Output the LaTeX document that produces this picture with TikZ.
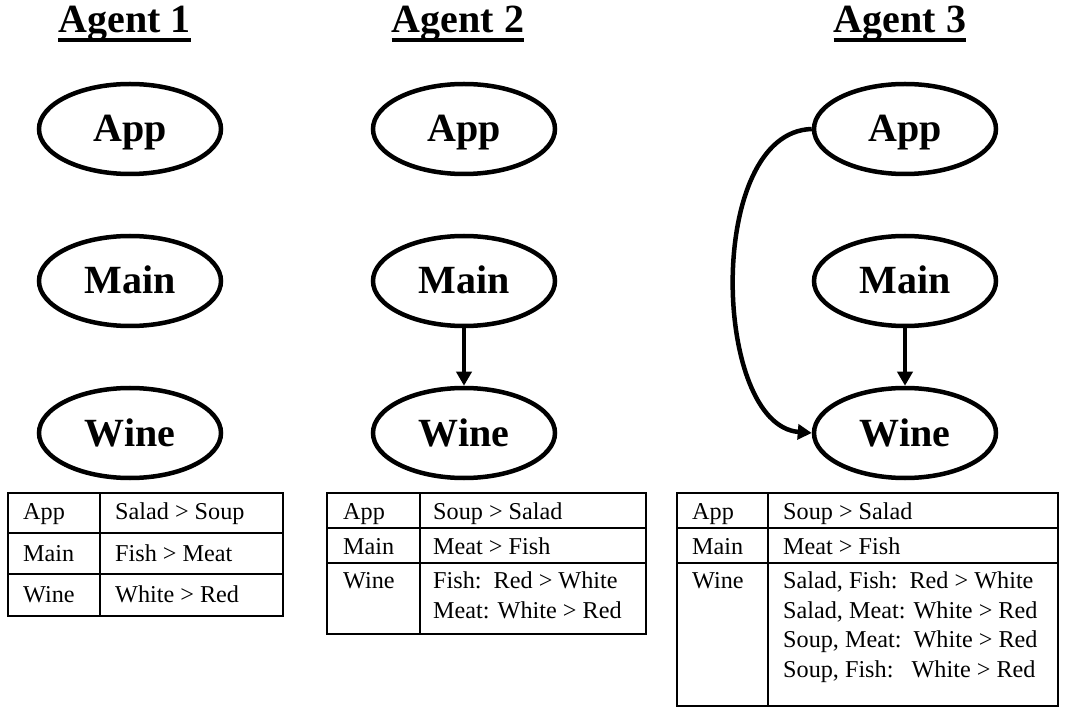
\documentclass[tikz,border=0pt]{standalone}
\usepackage{fontspec}
\setmainfont{Liberation Serif}
\usetikzlibrary{shapes.geometric,arrows.meta}
\begin{document}
\begin{tikzpicture}[x=1pt,y=-1pt,
 var/.style={ellipse,draw,line width=4.5pt,minimum width=182pt,minimum height=90pt,inner sep=0pt,text height=26pt,text depth=0pt,font=\fontsize{40}{41}\selectfont\bfseries},
 title/.style={inner sep=0pt,anchor=base,font=\fontsize{40}{42}\selectfont\bfseries},
 uline/.style={line width=3.5pt},
 arr/.style={line width=4.5pt,-{Triangle[length=14pt,width=15pt]}},
 tab/.style={line width=2pt},
 cell/.style={inner sep=0pt,anchor=base west,font=\fontsize{24.2}{26}\selectfont}]
\useasboundingbox (0,0) rectangle (1068,708);

% titles
\node[title] (t1) at (124.5,33) {Agent 1};
\node[title] (t2) at (458,33) {Agent 2};
\node[title] (t3) at (900,33) {Agent 3};
\foreach \t in {t1,t2,t3}
  \draw[uline] ([yshift=-7pt]\t.base west) -- ([yshift=-7pt]\t.base east);

% agent 1
\node[var] (a1) at (130,129) {App};
\node[var] (m1) at (130,281) {Main};
\node[var] (w1) at (130,433) {Wine};
% agent 2
\node[var] (a2) at (464,129) {App};
\node[var] (m2) at (464,281) {Main};
\node[var] (w2) at (464,433) {Wine};
\draw[arr] (m2) -- (w2);
% agent 3
\node[var] (a3) at (905,129) {App};
\node[var] (m3) at (905,281) {Main};
\node[var] (w3) at (905,433) {Wine};
\draw[arr] (m3) -- (w3);
\draw[arr] (a3.west) .. controls (705,132) and (712,425) .. (w3.west);

% table 1
\draw[tab] (8,493) rectangle (283,616);
\draw[tab] (8,533) -- (283,533);
\draw[tab] (8,574) -- (283,574);
\draw[tab] (100,493) -- (100,616);
\node[cell] (c1a) at (23,519) {App};
\node[cell] (c1b) at (115,519) {Salad > Soup};
\node[cell] (c1c) at (23,561) {Main};
\node[cell] (c1d) at (115,561) {Fish > Meat};
\node[cell] (c1e) at (23,602) {Wine};
\node[cell] (c1f) at (115,602) {White > Red};

% table 2
\draw[tab] (327,493) rectangle (646,634);
\draw[tab] (327,528) -- (646,528);
\draw[tab] (327,563) -- (646,563);
\draw[tab] (420,493) -- (420,634);
\node[cell] (c2a) at (343,519) {App};
\node[cell] (c2b) at (433,519) {Soup > Salad};
\node[cell] (c2c) at (343,554) {Main};
\node[cell] (c2d) at (433,554) {Meat > Fish};
\node[cell] (c2e) at (343,588) {Wine};
\node[cell] (c2f) at (433,588) {Fish:\ \ Red > White};
\node[cell] (c2g) at (433,618) {Meat: White > Red};

% table 3
\draw[tab] (677,493) rectangle (1058,706);
\draw[tab] (677,528) -- (1058,528);
\draw[tab] (677,563) -- (1058,563);
\draw[tab] (768,493) -- (768,706);
\node[cell] (c3a) at (692,519) {App};
\node[cell] (c3b) at (783,519) {Soup > Salad};
\node[cell] (c3c) at (692,554) {Main};
\node[cell] (c3d) at (783,554) {Meat > Fish};
\node[cell] (c3e) at (692,588) {Wine};
\node[cell] (c3f) at (783,588) {Salad, Fish:\ \ Red > White};
\node[cell] (c3g) at (783,618) {Salad, Meat: White > Red};
\node[cell] (c3h) at (783,647.5) {Soup, Meat:\ \ White > Red};
\node[cell] (c3i) at (783,677) {Soup, Fish:\ \ \ White > Red};
\end{tikzpicture}
\end{document}
